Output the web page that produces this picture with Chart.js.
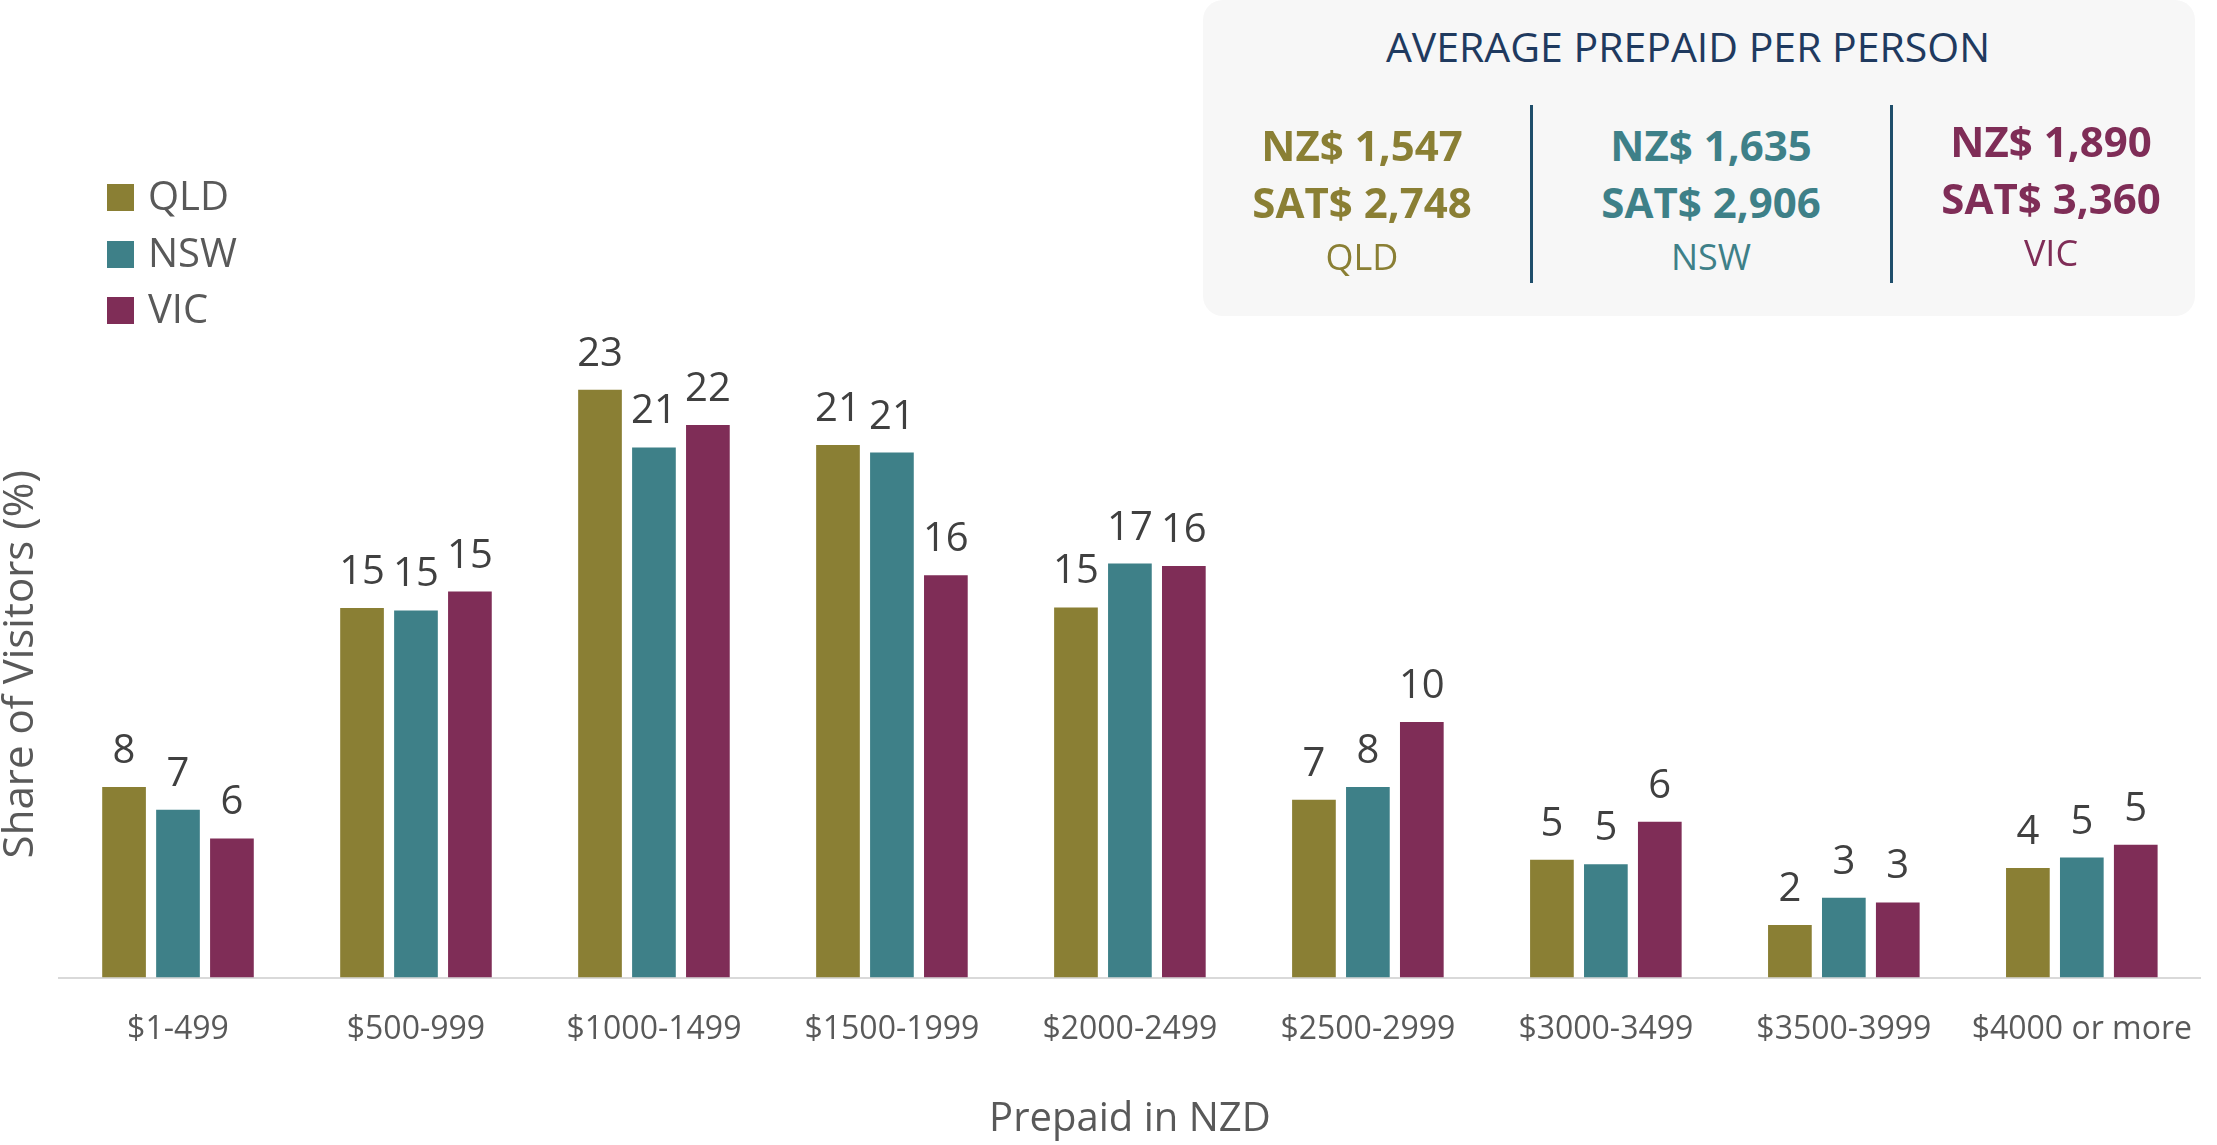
<!DOCTYPE html>
<html>
<head>
<meta charset="utf-8">
<script src="https://cdn.jsdelivr.net/npm/chart.js@4.4.1/dist/chart.umd.min.js"></script>
<style>
  html, body { margin: 0; padding: 0; background: #ffffff; }
  body { width: 2217px; height: 1145px; position: relative; overflow: hidden; font-family: 'Open Sans', sans-serif; }
  #c { position: absolute; left: 0; top: 0; }
  .legend-sq { position: absolute; width: 27px; height: 27px; }
  .legend-tx { position: absolute; font-size: 40px; color: #595959; line-height: 1; }
  #box { position: absolute; left: 1203px; top: 0; width: 992px; height: 316px; background: #f7f7f7; border-radius: 20px; }
  .divider { position: absolute; width: 3px; background: #1f4e6b; top: 105px; height: 178px; }
  .ctext { position: absolute; width: 320px; text-align: center; line-height: 1; white-space: nowrap; }
</style>
</head>
<body>
<canvas id="c" width="2217" height="1145"></canvas>
<div id="overlay"></div>
<script>
// ---- data ----
const categories = ["$1-499", "$500-999", "$1000-1499", "$1500-1999", "$2000-2499", "$2500-2999", "$3000-3499", "$3500-3999", "$4000 or more"];
const seriesNames = ["QLD", "NSW", "VIC"];
const qldValues = [7.6, 14.75, 23.45, 21.25, 14.77, 7.1, 4.7, 2.1, 4.37];
const nswValues = [6.7, 14.65, 21.15, 20.95, 16.52, 7.6, 4.52, 3.19, 4.79];
const vicValues = [5.55, 15.4, 22.05, 16.05, 16.42, 10.2, 6.22, 3.0, 5.3];
const boxTitle = "AVERAGE PREPAID PER PERSON";
const nzdAverages = ["NZ$ 1,547", "NZ$ 1,635", "NZ$ 1,890"];
const satAverages = ["SAT$ 2,748", "SAT$ 2,906", "SAT$ 3,360"];
const xAxisTitle = "Prepaid in NZD";
const yAxisTitle = "Share of Visitors (%)";

const colors = ["#8a7f34", "#3e8088", "#7f2d57"];
const FONT = "'Open Sans', sans-serif";

// ---- overlay: legend and info box ----
const overlay = document.getElementById('overlay');
const legendTops = [184, 241, 297];
seriesNames.forEach((n, i) => {
  const sq = document.createElement('div');
  sq.className = 'legend-sq';
  sq.style.left = '107px';
  sq.style.top = legendTops[i] + 'px';
  sq.style.background = colors[i];
  overlay.appendChild(sq);
  const tx = document.createElement('div');
  tx.className = 'legend-tx';
  tx.textContent = n;
  tx.style.left = '148px';
  tx.style.top = (legendTops[i] + 27 - 0.888 * 40) + 'px';
  overlay.appendChild(tx);
});

const box = document.createElement('div');
box.id = 'box';
overlay.appendChild(box);
const title = document.createElement('div');
title.className = 'ctext';
title.style.width = '800px';
title.style.left = (1688 - 400) + 'px';
title.style.top = (62 - 0.888 * 41) + 'px';
title.style.fontSize = '41px';
title.style.color = '#1f3a5f';
title.textContent = boxTitle;
overlay.appendChild(title);
[1531, 1891].forEach(x => {
  const d = document.createElement('div');
  d.className = 'divider';
  d.style.left = (x - 1) + 'px';
  overlay.appendChild(d);
});
const colCenters = [1362, 1711, 2051];
const colShift = [0, 0, -4];
seriesNames.forEach((n, i) => {
  const lines = [
    { t: nzdAverages[i], base: 161, size: 42, w: 700 },
    { t: satAverages[i], base: 218, size: 42, w: 700 },
    { t: n, base: 271, size: 36, w: 400 }
  ];
  lines.forEach(l => {
    const d = document.createElement('div');
    d.className = 'ctext';
    d.style.left = (colCenters[i] - 160) + 'px';
    d.style.top = (l.base + colShift[i] - 0.888 * l.size) + 'px';
    d.style.fontSize = l.size + 'px';
    d.style.fontWeight = l.w;
    d.style.color = colors[i];
    d.textContent = l.t;
    overlay.appendChild(d);
  });
});

// ---- data labels plugin ----
const valueLabels = {
  id: 'valueLabels',
  afterDatasetsDraw(chart) {
    const ctx = chart.ctx;
    ctx.save();
    ctx.font = "40px " + FONT;
    ctx.fillStyle = '#404040';
    ctx.textAlign = 'center';
    ctx.textBaseline = 'alphabetic';
    chart.data.datasets.forEach((ds, di) => {
      const meta = chart.getDatasetMeta(di);
      meta.data.forEach((el, i) => {
        ctx.fillText(String(Math.round(ds.data[i])), el.x, el.y - 24);
      });
    });
    ctx.restore();
  }
};

new Chart(document.getElementById('c'), {
  type: 'bar',
  data: {
    labels: categories,
    datasets: [
      { label: seriesNames[0], data: qldValues, backgroundColor: colors[0] },
      { label: seriesNames[1], data: nswValues, backgroundColor: colors[1] },
      { label: seriesNames[2], data: vicValues, backgroundColor: colors[2] }
    ]
  },
  options: {
    responsive: false,
    animation: false,
    devicePixelRatio: 1,
    layout: { padding: { top: 351, left: 0, right: 0, bottom: 1 } },
    datasets: { bar: { categoryPercentage: 0.68, barPercentage: 0.81 } },
    plugins: { legend: { display: false }, tooltip: { enabled: false } },
    scales: {
      x: {
        grid: { display: false },
        border: { display: true, color: '#d9d9d9', width: 2 },
        ticks: { color: '#595959', font: { family: FONT, size: 32, lineHeight: 1.2 }, padding: 25, maxRotation: 0, autoSkip: false },
        title: { display: true, text: xAxisTitle, color: '#595959', font: { family: FONT, size: 40, lineHeight: 1.2 }, padding: { top: 22, bottom: 0 } }
      },
      y: {
        min: 0, max: 25,
        grid: { display: false },
        border: { display: false },
        ticks: { display: false },
        title: { display: true, text: yAxisTitle, color: '#595959', font: { family: FONT, size: 42, lineHeight: 1 }, padding: { top: 0, bottom: 9 } }
      }
    }
  },
  plugins: [valueLabels]
});
</script>
</body>
</html>
